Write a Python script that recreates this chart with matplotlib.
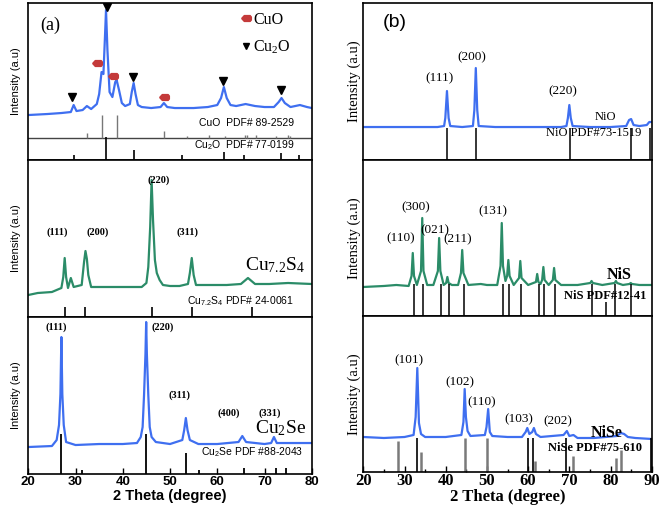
import matplotlib
matplotlib.use("Agg")
import matplotlib.pyplot as plt
from matplotlib.lines import Line2D
from matplotlib.ticker import MultipleLocator

plt.rcParams['mathtext.fontset'] = 'custom'
plt.rcParams['mathtext.rm'] = 'Liberation Serif'
plt.rcParams['mathtext.sf'] = 'Liberation Sans'
plt.rcParams['mathtext.bf'] = 'Liberation Serif:bold'

SERIF = 'Liberation Serif'
SANS = 'Liberation Sans'
BLUE = '#3f6ff0'
GREEN = '#2b8c68'
RED = '#c43a3a'

# ---------------- panel (a) data (intensity = height above axis bottom) ----------------
cu_ox_tt = [20, 24, 27, 29.0, 29.6, 30.2, 31.5, 32.4, 33.3, 34.5,
            35.0, 35.5, 35.9, 36.2, 36.45, 36.75, 37.2, 37.8, 38.4, 38.7,
            39.2, 39.8, 40.5, 41.5, 41.9, 42.3, 42.7, 43.2, 44, 46,
            48, 48.7, 49.4, 51, 53, 55, 58, 60, 60.8, 61.4,
            62.0, 62.8, 64, 66, 68, 70, 72, 73.0, 73.6, 74.3,
            75.5, 77.5, 79, 80]
cu_ox_int = [45, 46, 47, 48, 55, 49, 50, 54, 51, 56,
             66, 88, 86, 120, 150, 110, 68, 63, 78, 80,
             70, 57, 54, 56, 68, 77, 66, 55, 53, 52,
             53, 57, 53, 52, 52, 52, 53, 55, 62, 73,
             62, 55, 54, 56, 54, 53, 53, 58, 62, 57,
             53, 55, 53, 52]
cuo_mark_tt = [34.6, 38.0, 48.7]
cuo_mark_int = [97, 84, 63]
cu2o_mark_tt = [29.3, 36.7, 42.2, 61.2, 73.5]
cu2o_mark_int = [63, 153, 83, 79, 70]
cuo_ref_tt = [32.5, 35.5, 38.7, 48.7, 53.5, 58.3, 61.6, 65.8, 66.3, 68.1, 72.4, 75.0, 75.3]
cuo_ref_top = [27, 45, 45, 29, 24, 25, 24, 25, 25, 25, 24, 25, 24]
cuo_ref_base = 22
cu2o_ref_tt = [29.6, 36.4, 42.3, 52.5, 61.4, 65.6, 73.5, 77.4]
cu2o_ref_top = [5, 23, 10, 5, 8, 5, 7, 5]

cus_tt = [20, 22, 25, 27, 27.4, 27.7, 28.0, 28.4, 29.0, 29.6,
          31.3, 31.8, 32.1, 32.4, 32.7, 33.3, 35, 38, 41, 44,
          45.0, 45.4, 45.8, 46.1, 46.4, 46.8, 47.2, 47.8, 48.5, 50,
          52, 53.8, 54.2, 54.6, 55.0, 55.5, 58, 62, 65, 66.5,
          68, 71, 75, 80]
cus_int = [22, 24, 25, 29, 40, 59, 40, 29, 39, 30,
           32, 55, 66, 58, 42, 30, 30, 30, 30, 30,
           34, 50, 90, 137, 97, 57, 44, 37, 32, 31,
           31, 33, 44, 59, 42, 32, 32, 32, 33, 39,
           33, 33, 34, 33]
cus_ref_tt = [27.7, 32.1, 46.1, 54.7, 67.4]
cus_ref_top = [10, 10, 10, 10, 10]
cus_hkl = ['(111)', '(200)', '(220)', '(311)']
cus_hkl_tt = [26.1, 34.6, 47.5, 53.6]
cus_hkl_int = [85, 85, 137, 85]

cuse_tt = [20, 25, 26.0, 26.5, 26.8, 27.0, 27.2, 27.5, 28.0, 30,
           35, 40, 43.0, 43.8, 44.2, 44.5, 44.8, 44.95, 45.1, 45.4,
           45.7, 46.1, 47, 50, 52.6, 53.0, 53.35, 53.7, 54.2, 56,
           60, 64.5, 65.3, 66.1, 70, 71.4, 72.0, 72.6, 76, 80]
cuse_int = [27, 28, 34, 49, 80, 137, 80, 49, 32, 29,
            30, 30, 31, 37, 47, 79, 120, 152, 120, 79,
            47, 37, 32, 30, 34, 44, 56, 44, 34, 30,
            30, 32, 38, 32, 30, 31, 37, 31, 31, 31]
cuse_ref_tt = [27.0, 31.3, 44.9, 53.4, 56.2, 65.7, 72.5, 74.5]
cuse_ref_top = [40, 4, 40, 21, 4, 6, 6, 6]
cuse_hkl = ['(111)', '(220)', '(311)', '(400)', '(331)']
cuse_hkl_tt = [26.0, 48.4, 52.0, 62.5, 71.2]
cuse_hkl_int = [147, 147, 79, 61, 61]

# ---------------- panel (b) data ----------------
nio_tt = [20, 30, 38, 39.6, 39.9, 40.3, 40.7, 41.1, 44, 46.6,
          46.95, 47.3, 47.65, 48.0, 52, 60, 68, 69.3, 69.65, 70.0,
          70.35, 70.8, 75, 80, 83.8, 84.5, 85.0, 85.6, 87, 88.8,
          89.4, 90]
nio_int = [33, 33, 33, 34, 42, 69, 42, 34, 33, 34,
           50, 92, 50, 34, 33, 33, 33, 34, 42, 55,
           42, 34, 33, 33, 34, 40, 41, 35, 34, 35,
           38, 38]
nio_ref_tt = [40.4, 47.4, 70.2, 85.0, 89.7]
nio_ref_top = [32, 32, 32, 32, 32]
nio_hkl = ['(111)', '(200)', '(220)']
nio_hkl_tt = [38.6, 46.4, 68.5]
nio_hkl_int = [82, 103, 69]

nis_tt = [20, 25, 28, 31, 31.7, 32.0, 32.3, 33.0, 34.0, 34.3,
          34.6, 35.5, 37.0, 38.1, 38.4, 38.7, 39.5, 40.1, 40.4, 40.7,
          41.5, 43.0, 43.7, 44.0, 44.3, 45.5, 48.5, 50, 52.5, 53.3,
          53.6, 53.9, 54.5, 54.9, 55.2, 55.5, 56.5, 57.8, 58.1, 58.4,
          60, 61.9, 62.2, 62.5, 63.0, 63.4, 63.7, 64.0, 65, 66.0,
          66.3, 66.6, 68, 72, 75.1, 75.4, 75.7, 78, 81.0, 81.3,
          81.6, 83, 84.6, 84.9, 85.2, 87, 90]
nis_int = [29, 30, 31, 30, 40, 63, 40, 31, 45, 98,
           45, 31, 31, 45, 78, 45, 31, 33, 39, 33,
           31, 31, 43, 66, 43, 31, 32, 31, 31, 50,
           93, 50, 35, 40, 56, 40, 31, 38, 55, 38,
           31, 34, 42, 34, 32, 36, 49, 36, 31, 36,
           48, 36, 31, 31, 33, 35, 33, 31, 33, 35,
           33, 31, 32, 33, 32, 31, 31]
nis_ref_tt = [32.2, 34.4, 38.8, 40.8, 44.5, 53.9, 55.3, 58.3, 62.6, 63.9, 66.6, 75.6, 78.9, 81.2, 84.9]
nis_ref_top = [32, 32, 32, 32, 32, 32, 32, 32, 32, 32, 32, 32, 14, 32, 32]
nis_hkl = ['(110)', '(300)', '(021)', '(211)', '(131)']
nis_hkl_tt = [29.1, 32.8, 37.4, 42.9, 51.4]
nis_hkl_int = [78, 109, 86, 77, 105]

nise_tt = [20, 25, 30, 32.2, 32.7, 33.1, 33.5, 34.0, 35, 40,
           43.8, 44.3, 44.6, 44.9, 45.3, 46, 49.5, 49.9, 50.3, 50.7,
           51.3, 55, 58.5, 59.4, 59.8, 60.3, 61.0, 61.4, 61.9, 63,
           68.6, 69.4, 70.0, 71.0, 72, 76, 81.5, 82.5, 83.3, 84.2,
           86, 90]
nise_int = [35, 34, 35, 37, 55, 104, 49, 38, 35, 35,
            37, 50, 83, 55, 41, 36, 37, 45, 63, 40,
            36, 35, 35, 40, 44, 38, 40, 44, 38, 35,
            37, 41, 36, 37, 34, 34, 36, 39, 38, 35,
            34, 33]
nise_ref_dark_tt = [33.1, 60.0, 61.2, 69.2, 89.8]
nise_ref_dark_top = [34, 34, 34, 34, 34]
nise_ref_gray_tt = [28.3, 33.9, 44.7, 49.9, 61.7, 71.0, 81.3, 82.5]
nise_ref_gray_top = [31, 20, 34, 34, 11, 16, 14, 22]
nise_hkl = ['(101)', '(102)', '(110)', '(103)', '(202)']
nise_hkl_tt = [31.1, 43.5, 48.7, 57.8, 67.2]
nise_hkl_int = [112, 90, 70, 53, 51]

# ---------------- layout ----------------
fig = plt.figure(figsize=(6.63, 5.08), dpi=100)
lx, lw = 0.0427, 0.4275
rx, rw = 0.548, 0.435
la = [fig.add_axes([lx, 0.685, lw, 0.309]),
      fig.add_axes([lx, 0.376, lw, 0.309]),
      fig.add_axes([lx, 0.0669, lw, 0.309])]
ra = [fig.add_axes([rx, 0.685, rw, 0.309]),
      fig.add_axes([rx, 0.378, rw, 0.307]),
      fig.add_axes([rx, 0.0709, rw, 0.307])]
left_h = [157, 157, 157]
right_h = [157, 156, 156]

for ax, h in zip(la, left_h):
    ax.set_xlim(20, 80)
    ax.set_ylim(0, h)
    ax.set_yticks([])
    ax.set_ylabel('Intensity (a.u)', family=SANS, fontsize=8, labelpad=5)
    ax.xaxis.set_major_locator(MultipleLocator(10))
    ax.tick_params(axis='x', direction='in', length=4, width=1, pad=1.5)
    for s in ax.spines.values():
        s.set_linewidth(1.2)
for ax, h in zip(ra, right_h):
    ax.set_xlim(20, 90)
    ax.set_ylim(0, h)
    ax.set_yticks([])
    ax.set_ylabel('Intensity (a.u)', family=SERIF, fontsize=10.5, labelpad=2)
    ax.xaxis.set_major_locator(MultipleLocator(10))
    ax.xaxis.set_minor_locator(MultipleLocator(5))
    ax.tick_params(axis='x', which='major', direction='in', length=4, width=1, pad=1)
    ax.tick_params(axis='x', which='minor', direction='in', length=2.5, width=1)
    for s in ax.spines.values():
        s.set_linewidth(1.2)
for ax in la[:2] + ra[:2]:
    ax.tick_params(axis='x', which='both', bottom=False, labelbottom=False)

# ---------------- (a) top: CuO / Cu2O ----------------
ax = la[0]
ax.plot(cu_ox_tt, cu_ox_int, color=BLUE, lw=1.6)
# small left-pointing red blob used for CuO peaks
blob = [(-1, 0), (-0.45, 0.6), (0.75, 0.6), (1, 0.3), (1, -0.3), (0.75, -0.6), (-0.45, -0.6), (-1, 0)]
ax.plot(cuo_mark_tt, cuo_mark_int, ls='none', marker=blob, ms=7, color=RED)
ax.plot(cu2o_mark_tt, cu2o_mark_int, ls='none', marker='v', ms=5.5, color='black')
ax.axhline(cuo_ref_base, color='#444444', lw=1)
ax.vlines(cuo_ref_tt, cuo_ref_base, cuo_ref_top, color='#777777', lw=1)
ax.vlines(cu2o_ref_tt, 0, cu2o_ref_top, color='black', lw=1.2)
ax.text(66.2, 37, r'CuO  PDF# 89-2529', family=SANS, fontsize=7.5, ha='center', va='center')
ax.text(65.7, 15, r'$\mathsf{Cu_2O}$  PDF# 77-0199', family=SANS, fontsize=7.5, ha='center', va='center')
ax.text(24.6, 135, '(a)', family=SERIF, fontsize=13, ha='center', va='center')
handles = [Line2D([], [], ls='none', marker=blob, ms=7, color=RED),
           Line2D([], [], ls='none', marker='v', ms=5, color='black')]
ax.legend(handles, ['CuO', r'$\mathrm{Cu_2O}$'], loc='upper right', bbox_to_anchor=(0.95, 0.985),
          frameon=False, handlelength=0.6, handletextpad=0.15, labelspacing=0.7,
          borderaxespad=0, prop={'family': SERIF, 'size': 11.5})

# ---------------- (a) middle: Cu7.2S4 ----------------
ax = la[1]
ax.plot(cus_tt, cus_int, color=GREEN, lw=1.6)
ax.vlines(cus_ref_tt, 0, cus_ref_top, color='black', lw=1.2)
for lab, t, i in zip(cus_hkl, cus_hkl_tt, cus_hkl_int):
    ax.text(t, i, lab, family=SERIF, fontsize=7.5, weight='bold', ha='center', va='center')
ax.text(72.2, 52, r'$\mathrm{Cu_{7.2}S_4}$', family=SERIF, fontsize=14, ha='center', va='center')
ax.text(65, 16, r'$\mathsf{Cu_{7.2}S_4}$ PDF# 24-0061', family=SANS, fontsize=7.5, ha='center', va='center')

# ---------------- (a) bottom: Cu2Se ----------------
ax = la[2]
ax.plot(cuse_tt, cuse_int, color=BLUE, lw=1.6)
ax.vlines(cuse_ref_tt, 0, cuse_ref_top, color='black', lw=1.3)
for lab, t, i in zip(cuse_hkl, cuse_hkl_tt, cuse_hkl_int):
    ax.text(t, i, lab, family=SERIF, fontsize=7.5, weight='bold', ha='center', va='center')
ax.text(73.3, 46, r'$\mathrm{Cu_2Se}$', family=SERIF, fontsize=14, ha='center', va='center')
ax.text(67.3, 22, r'$\mathsf{Cu_2Se}$ PDF #88-2043', family=SANS, fontsize=7.5, ha='center', va='center')
for t in ax.get_xticklabels():
    t.set_family(SANS)
    t.set_fontsize(9.5)
    t.set_weight('bold')
ax.set_xlabel('2 Theta (degree)', family=SANS, fontsize=10.5, weight='bold', labelpad=1)

# ---------------- (b) top: NiO ----------------
ax = ra[0]
ax.plot(nio_tt, nio_int, color=BLUE, lw=1.6)
ax.vlines(nio_ref_tt, 0, nio_ref_top, color='black', lw=1.1)
for lab, t, i in zip(nio_hkl, nio_hkl_tt, nio_hkl_int):
    ax.text(t, i, lab, family=SERIF, fontsize=9.5, ha='center', va='center')
ax.text(78.7, 43, 'NiO', family=SERIF, fontsize=9, ha='center', va='center')
ax.text(75.8, 27, 'NiO PDF#73-1519', family=SERIF, fontsize=9, ha='center', va='center')
ax.text(27.7, 138, '(b)', family=SANS, fontsize=14, ha='center', va='center')

# ---------------- (b) middle: NiS ----------------
ax = ra[1]
ax.plot(nis_tt, nis_int, color=GREEN, lw=1.6)
ax.vlines(nis_ref_tt, 0, nis_ref_top, color='black', lw=1.1)
for lab, t, i in zip(nis_hkl, nis_hkl_tt, nis_hkl_int):
    ax.text(t, i, lab, family=SERIF, fontsize=9.5, ha='center', va='center')
ax.text(82, 41, 'NiS', family=SERIF, fontsize=11.5, weight='bold', ha='center', va='center')
ax.text(78.7, 20, 'NiS PDF#12-41', family=SERIF, fontsize=9, weight='bold', ha='center', va='center',
        clip_on=True)

# ---------------- (b) bottom: NiSe ----------------
ax = ra[2]
ax.plot(nise_tt, nise_int, color=BLUE, lw=1.6)
ax.vlines(nise_ref_gray_tt, 0, nise_ref_gray_top, color='#7a7a7a', lw=1.8)
ax.vlines(nise_ref_dark_tt, 0, nise_ref_dark_top, color='black', lw=1.2)
for lab, t, i in zip(nise_hkl, nise_hkl_tt, nise_hkl_int):
    ax.text(t, i, lab, family=SERIF, fontsize=9.5, ha='center', va='center')
ax.text(79.1, 39, 'NiSe', family=SERIF, fontsize=11.5, weight='bold', ha='center', va='center')
ax.text(76.2, 24, 'NiSe PDF#75-610', family=SERIF, fontsize=9, weight='bold', ha='center', va='center')
for t in ax.get_xticklabels():
    t.set_family(SERIF)
    t.set_fontsize(12)
    t.set_weight('bold')
ax.set_xlabel('2 Theta (degree)', family=SERIF, fontsize=12, weight='bold', labelpad=0)

fig.savefig('out.png', dpi=100)
